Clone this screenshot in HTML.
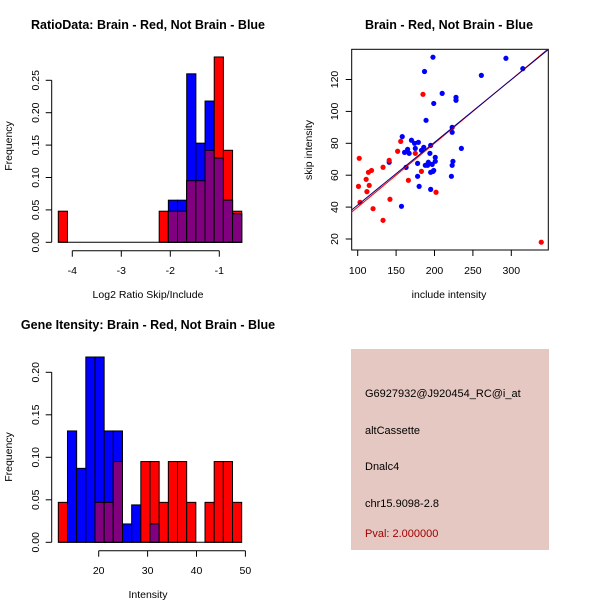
<!DOCTYPE html>
<html><head><meta charset="utf-8"><style>
body{margin:0;background:#fff;}
svg{display:block;font-family:"Liberation Sans",sans-serif;}
</style></head><body>
<svg id="c" width="600" height="600" xmlns="http://www.w3.org/2000/svg">
<rect width="600" height="600" fill="#fff"/>
<text x="148" y="29" font-size="12.5" font-weight="bold" text-anchor="middle">RatioData: Brain - Red, Not Brain - Blue</text>
<text x="449" y="29" font-size="12.5" font-weight="bold" text-anchor="middle">Brain - Red, Not Brain - Blue</text>
<text x="148" y="329" font-size="12.5" font-weight="bold" text-anchor="middle">Gene Itensity: Brain - Red, Not Brain - Blue</text>
<text x="148" y="298" font-size="10.5" text-anchor="middle">Log2 Ratio Skip/Include</text>
<text x="148" y="598" font-size="10.5" text-anchor="middle">Intensity</text>
<text x="449" y="298" font-size="10.5" text-anchor="middle">include intensity</text>
<text transform="translate(12,146) rotate(-90)" font-size="10.5" text-anchor="middle">Frequency</text>
<text transform="translate(12,457) rotate(-90)" font-size="10.5" text-anchor="middle">Frequency</text>
<text transform="translate(312,150) rotate(-90)" font-size="10.5" text-anchor="middle">skip intensity</text>
<g>
<rect x="351" y="349" width="198" height="201" fill="#e5c8c2"/>
<text x="365" y="397" font-size="11">G6927932@J920454_RC@i_at</text>
<text x="365" y="434" font-size="11">altCassette</text>
<text x="365" y="470" font-size="11">Dnalc4</text>
<text x="365" y="507" font-size="11">chr15.9098-2.8</text>
<text x="365" y="537" font-size="11" fill="#a00000">Pval: 2.000000</text>
</g>
</svg>
<script>
// Ratio histogram data
const ratioStart = -4.286, ratioBinW = 0.1872;
const ratioRed  = [0.048,0,0,0,0,0,0,0,0,0,0,0.048,0.048,0.048,0.095,0.095,0.142,0.286,0.142,0.048];
const ratioBlue = [0,0,0,0,0,0,0,0,0,0,0,0,0.065,0.065,0.26,0.153,0.218,0.13,0.065,0.044];
const ratioXTicks = [-4,-3,-2,-1];
const ratioYTicks = ["0.00","0.05","0.10","0.15","0.20","0.25"];
// Intensity histogram data
const intStart = 11.74, intBinW = 1.875;
const intRed  = [0.047,0,0,0,0.047,0.047,0.095,0,0,0.095,0.095,0.047,0.095,0.095,0.047,0,0.047,0.095,0.095,0.047];
const intBlue = [0,0.131,0.087,0.218,0.218,0.131,0.131,0.0216,0.044,0,0.0216,0,0,0,0,0,0,0,0,0];
const intXTicks = [20,30,40,50];
const intYTicks = ["0.00","0.05","0.10","0.15","0.20"];
// Scatter data
const redX = [102,101,103,111,112,114,115,118,120,133,133,141,142,152,156,166,175,183,185,202,339];
const redY = [70.6,53,43,57.4,49.7,61.8,53.6,63,39,65,31.7,69.3,44.9,75,81.2,56.8,73.7,62.4,110.7,49.3,18];
const blueX = [198,187,293,315,261,210,228,228,199,189,223,223,235,158,170,179,174,161,165,167,175,186,195,194,183,141,163,178,188,192,191,201,201,197,195,199,198,224,223,222,178,180,195,157];
const blueY = [134,125,133.3,126.8,122.6,111.3,108.8,107,105,94.4,90,86.9,76.8,84.2,81.9,80.6,80,74.3,76.2,73.7,76.8,77.5,78.7,73.7,75.6,68.1,64.9,67.4,66.2,68.1,66.2,71.2,68.7,66.8,61.8,63,62.4,68.7,66.2,59.3,59.3,53,51.1,40.5];
const redFit = [0, 0.4];
const blueFit = [2, 0.393];
const scXTicks = [100,150,200,250,300];
const scYTicks = [20,40,60,80,100,120];

const svg = document.getElementById('c');
const NS = 'http://www.w3.org/2000/svg';
function mk(tag, attrs, parent){const e=document.createElementNS(NS,tag);for(const k in attrs)e.setAttribute(k,attrs[k]);(parent||svg).appendChild(e);return e;}

function hist(name, start, bw, red, blue, xt, yt, xs, ys, axisY, yLabX, xLabY){
  const g = mk('g',{});
  
  
  for(let i=0;i<red.length;i++){
    const x0=xs(start+i*bw), x1=xs(start+(i+1)*bw);
    const r=red[i], b=blue[i], m=Math.min(r,b);
    const parts=[[r,'#ff0000','red'],[b,'#0000ff','blue'],[m,'#800080','overlap']];
    for(const [v,c,t] of parts){
      if(v<=0) continue;
      const rc=mk('rect',{x:x0,y:ys(v),width:x1-x0,height:ys(0)-ys(v),fill:c,stroke:'#000','stroke-width':1},g);
      
      
    }
  }
  mk('line',{x1:xs(start),x2:xs(start+red.length*bw),y1:ys(0),y2:ys(0),stroke:'#000'},g);
  // x axis
  mk('line',{x1:xs(xt[0]),x2:xs(xt[xt.length-1]),y1:axisY,y2:axisY,stroke:'#000'},g);
  xt.forEach(v=>{mk('line',{x1:xs(v),x2:xs(v),y1:axisY,y2:axisY+6,stroke:'#000'},g);
    const t=mk('text',{x:xs(v),y:xLabY,'font-size':10.5,'text-anchor':'middle'},g);t.textContent=v;});
  // y axis
  const yax=51.7;
  mk('line',{x1:yax,x2:yax,y1:ys(0),y2:ys(+yt[yt.length-1]),stroke:'#000'},g);
  yt.forEach(s=>{const v=+s;mk('line',{x1:yax,x2:yax-6,y1:ys(v),y2:ys(v),stroke:'#000'},g);
    const t=mk('text',{transform:`translate(${yLabX},${ys(v)}) rotate(-90)`,'font-size':10.5,'text-anchor':'middle'},g);t.textContent=s;});
}
hist('ratio-histogram', ratioStart, ratioBinW, ratioRed, ratioBlue, ratioXTicks, ratioYTicks,
  v=>121.3+(v+3)*49, v=>242.3-v*648, 250.7, 39, 274);
hist('intensity-histogram', intStart, intBinW, intRed, intBlue, intXTicks, intYTicks,
  v=>98.7+(v-20)*4.89, v=>542.3-v*850, 550.7, 39, 574);

// scatter
const sx=v=>357.7+(v-100)*0.768, sy=v=>239-(v-20)*1.595;
const sg=mk('g',{});


mk('rect',{x:351.7,y:49.3,width:196.6,height:200.7,fill:'none',stroke:'#000'},sg);
const clip=mk('clipPath',{id:'sc'},sg);mk('rect',{x:351.7,y:49.3,width:196.6,height:200.7},clip);
scXTicks.forEach(v=>{mk('line',{x1:sx(v),x2:sx(v),y1:250,y2:256,stroke:'#000'},sg);
  const t=mk('text',{x:sx(v),y:274,'font-size':10.5,'text-anchor':'middle'},sg);t.textContent=v;});
scYTicks.forEach(v=>{mk('line',{x1:351.7,x2:345.7,y1:sy(v),y2:sy(v),stroke:'#000'},sg);
  const t=mk('text',{transform:`translate(338,${sy(v)}) rotate(-90)`,'font-size':10.5,'text-anchor':'middle'},sg);t.textContent=v;});
blueX.forEach((v,i)=>{const c=mk('circle',{cx:sx(v),cy:sy(blueY[i]),r:2.6,fill:'#0000ff'},sg);
  
  });
redX.forEach((v,i)=>{const c=mk('circle',{cx:sx(v),cy:sy(redY[i]),r:2.6,fill:'#ff0000'},sg);
  
  });
[[redFit,'#ff0000','fit-line-red'],[blueFit,'#000080','fit-line-blue']].forEach(([f,c,n])=>{
  const a=80,b=360;
  const l=mk('line',{x1:sx(a),y1:sy(f[0]+f[1]*a),x2:sx(b),y2:sy(f[0]+f[1]*b),stroke:c,'stroke-width':1,'clip-path':'url(#sc)'},sg);
  
  
});
</script>
</body></html>
